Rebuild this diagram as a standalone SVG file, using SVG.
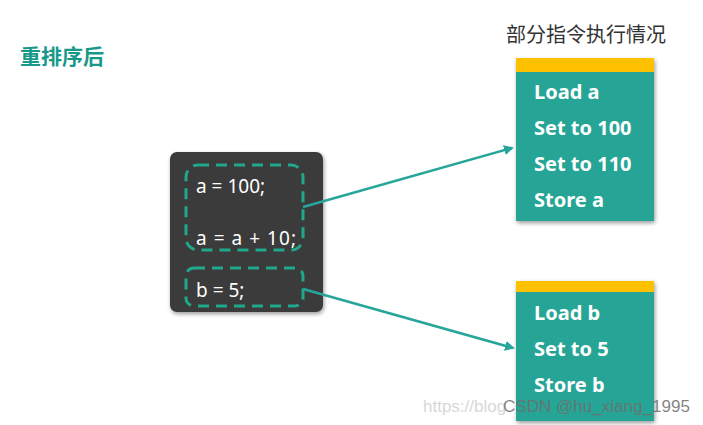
<svg xmlns="http://www.w3.org/2000/svg" width="703" height="425" viewBox="0 0 703 425">
<defs>
<style>
.title{font-family:"Noto Sans","Noto Sans CJK SC",sans-serif;font-size:21px;font-weight:bold;fill:#17998a}
.cap{font-family:"Noto Sans","Noto Sans CJK SC",sans-serif;font-size:20px;fill:#333}
.code{font-family:"Noto Sans",sans-serif;font-size:19px;fill:#ffffff}
.ins{font-family:"Noto Sans",sans-serif;font-size:20px;font-weight:bold;fill:#ffffff}
.dash{fill:none;stroke:#1fa88c;stroke-width:3;stroke-dasharray:11 7}
.teal{fill:#27a596}
.yel{fill:#fec101}
.conn{stroke:#26a69a;stroke-width:2.5;fill:none}
.wm{font-family:"Liberation Sans",sans-serif;font-size:17px}
</style>
<filter id="sh" x="-10%" y="-10%" width="125%" height="125%">
<feGaussianBlur in="SourceAlpha" stdDeviation="2"/>
<feOffset dx="1" dy="2"/>
<feComponentTransfer><feFuncA type="linear" slope="0.4"/></feComponentTransfer>
<feMerge><feMergeNode/><feMergeNode in="SourceGraphic"/></feMerge>
</filter>
<marker id="ah" markerWidth="10" markerHeight="10" refX="8" refY="5" orient="auto" markerUnits="userSpaceOnUse">
<path d="M0,0 L10,5 L0,10 z" fill="#26a69a"/>
</marker>
</defs>
<rect width="703" height="425" fill="#ffffff"/>
<text class="title" x="20" y="64">重排序后</text>
<text class="cap" x="506" y="42">部分指令执行情况</text>

<g id="code">
<rect x="170" y="152" width="153" height="160" rx="7" fill="#3b3b3b" filter="url(#sh)"/>
<rect class="dash" x="186" y="165" width="117" height="85" rx="12"/>
<rect class="dash" x="186" y="268" width="117" height="38" rx="8"/>
<text class="code" x="196" y="193">a = 100;</text>
<text class="code" x="196" y="245" textLength="100" lengthAdjust="spacing">a = a + 10;</text>
<text class="code" x="196" y="297">b = 5;</text>
</g>

<g id="insA">
<g filter="url(#sh)">
<rect class="teal" x="516" y="58" width="138" height="163"/>
<rect class="yel" x="516" y="58" width="138" height="14"/>
</g>
<text class="ins" x="534" y="99">Load a</text>
<text class="ins" x="534" y="135">Set to 100</text>
<text class="ins" x="534" y="171">Set to 110</text>
<text class="ins" x="534" y="207">Store a</text>
</g>

<g id="insB">
<g filter="url(#sh)">
<rect class="teal" x="516" y="281" width="138" height="140"/>
<rect class="yel" x="516" y="281" width="138" height="11"/>
</g>
<text class="ins" x="534" y="320">Load b</text>
<text class="ins" x="534" y="356">Set to 5</text>
<text class="ins" x="534" y="392">Store b</text>
</g>

<g id="connectors">
<line class="conn" x1="303" y1="207" x2="512" y2="148" marker-end="url(#ah)"/>
<line class="conn" x1="303" y1="289" x2="513" y2="348" marker-end="url(#ah)"/>
</g>

<g id="watermark">
<text class="wm" x="423" y="412" fill="#d8d8d8" font-size="16">https://blog.</text>
<text class="wm" x="503" y="412" textLength="187" lengthAdjust="spacingAndGlyphs" fill="#6e6e6e" fill-opacity="0.85">CSDN @hu_xiang_1995</text>
</g>
</svg>
